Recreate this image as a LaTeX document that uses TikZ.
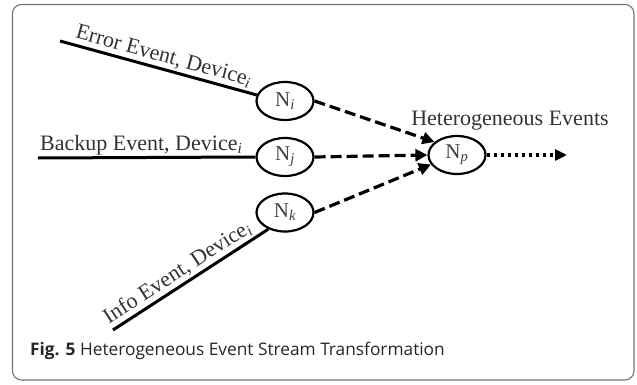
\documentclass[tikz,border=0pt]{standalone}
\usepackage{fontspec}
\setmainfont{Liberation Serif}
\newfontfamily\capfont{Open Sans}
\usetikzlibrary{arrows.meta,shapes.geometric}
\newcommand\isub[1]{\textsubscript{\itshape #1}}

\begin{document}
\begin{tikzpicture}[x=1pt,y=-1pt,
  evnode/.style={draw,ellipse,line width=2.2pt,minimum width=57pt,minimum height=38pt,
    inner sep=0pt,text=black!75,font=\fontsize{21}{24}\selectfont},
  feed/.style={line width=3pt},
  link/.style={line width=3.2pt,dash pattern=on 11pt off 5pt,
    -{Triangle[length=12pt,width=12pt]}},
  outlink/.style={line width=3.2pt,dash pattern=on 3.5pt off 3.5pt,
    -{Triangle[length=12pt,width=11pt]}},
  lbl/.style={font=\fontsize{22}{24}\selectfont,inner sep=0pt,text=black!80},
  frame/.style={draw=black!55,line width=1.1pt,rounded corners=9pt}
]
\useasboundingbox (0,0) rectangle (637,385);
\draw[frame] (12.5,4.5) rectangle (634,380);

% event nodes
\node[evnode] (ni) at (285,101) {N\isub{i}};
\node[evnode] (nj) at (285,157) {N\isub{j}};
\node[evnode] (nk) at (285,212.5) {N\isub{k}};
\node[evnode] (np) at (457,155) {N\isub{p}};

% incoming event streams, labelled along their length
\coordinate (es) at (60,41);
\coordinate (bs) at (38,158);
\coordinate (is) at (113,330);
\draw[feed] (es) -- node[lbl,sloped,anchor=south,pos=0.51,yshift=2pt] (el)
  {Error Event, Device\isub{i}} (ni.168);
\draw[feed] (bs) -- (nj.west);
\node[lbl,anchor=base west] (bl) at (40,150) {Backup Event, Device\isub{i}};
\draw[feed] (is) -- node[lbl,sloped,anchor=south,pos=0.46,yshift=2pt] (il)
  {Info Event, Device\isub{i}} (nk.225);

% merged stream
\draw[link] (ni.east) -- (np.150);
\draw[link] (nj.east) -- (np.west);
\draw[link] (nk.east) -- (np.200);

\coordinate (out) at (567,155);
\draw[outlink] (np.east) -- (out);
\node[lbl,anchor=base] (hl) at (510,125) {Heterogeneous Events};

% caption
\node[anchor=base west,inner sep=0pt,font=\capfont\fontsize{17.3}{20}\selectfont,text=black!85]
  (cap) at (30,355) {\textbf{Fig. 5} Heterogeneous Event Stream Transformation};
\end{tikzpicture}
\end{document}
